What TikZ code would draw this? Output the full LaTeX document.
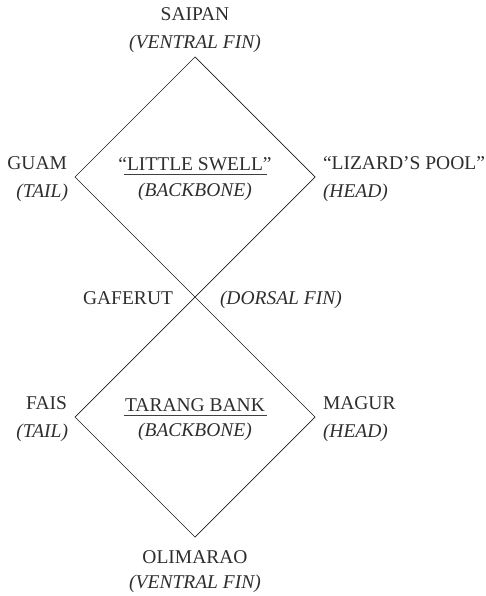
\documentclass[tikz,border=0pt]{standalone}
\usepackage{fontspec}
\setmainfont{Liberation Serif}
\begin{document}
\begin{tikzpicture}[x=1pt,y=-1pt,
  every node/.style={inner sep=0pt,outer sep=0pt,text=black!82,
    font=\fontsize{19.5}{28}\selectfont},
  place/.style={},
  role/.style={font=\fontsize{19.5}{28}\selectfont\itshape},
  edge line/.style={draw=black!90,line width=0.7pt},
  bar/.style={draw=black!75,line width=0.9pt}]
\useasboundingbox (0,0) rectangle (485,596);

% corners of the two diamonds
\coordinate (top) at (195,57);
\coordinate (ul) at (75,177);
\coordinate (ur) at (315,177);
\coordinate (cross) at (195,297);
\coordinate (ll) at (75,417);
\coordinate (lr) at (315,417);
\coordinate (bot) at (195,537);

\draw[edge line] (top) -- (ul) -- (cross) -- (lr) -- (bot) -- (ll) -- (cross) -- (ur) -- cycle;

% top and bottom
\node[place,anchor=base] (saipan) at (195,21) {SAIPAN};
\node[role,anchor=base] (saipanr) at (195,49) {(VENTRAL FIN)};
\node[place,anchor=base] (olimarao) at (195,563) {OLIMARAO};
\node[role,anchor=base] (olimaraor) at (195,588) {(VENTRAL FIN)};

% upper diamond
\node[place,anchor=base east] (guam) at (67,169) {GUAM};
\node[role,anchor=base east] (guamr) at (68,197) {(TAIL)};
\node[place,anchor=base west] (lizard) at (323,169) {“LIZARD’S POOL”};
\node[role,anchor=base west] (lizardr) at (323,197) {(HEAD)};
\node[place,anchor=base] (swell) at (195,170) {“LITTLE SWELL”};
\node[role,anchor=base] (swellr) at (195,196) {(BACKBONE)};
\coordinate (swellbarl) at (123.5,174.5);
\coordinate (swellbarr) at (266.5,174.5);
\draw[bar] (swellbarl) -- (swellbarr);

% crossing point
\node[place,anchor=base east] (gaferut) at (173,304) {GAFERUT};
\node[role,anchor=base west] (gaferutr) at (220,304) {(DORSAL FIN)};

% lower diamond
\node[place,anchor=base east] (fais) at (67,409) {FAIS};
\node[role,anchor=base east] (faisr) at (68,437) {(TAIL)};
\node[place,anchor=base west] (magur) at (323,409) {MAGUR};
\node[role,anchor=base west] (magurr) at (323,437) {(HEAD)};
\node[place,anchor=base] (tarang) at (195,411) {TARANG BANK};
\node[role,anchor=base] (tarangr) at (195,436) {(BACKBONE)};
\coordinate (tarangbarl) at (123.5,415);
\coordinate (tarangbarr) at (266.5,415);
\draw[bar] (tarangbarl) -- (tarangbarr);
\end{tikzpicture}
\end{document}
